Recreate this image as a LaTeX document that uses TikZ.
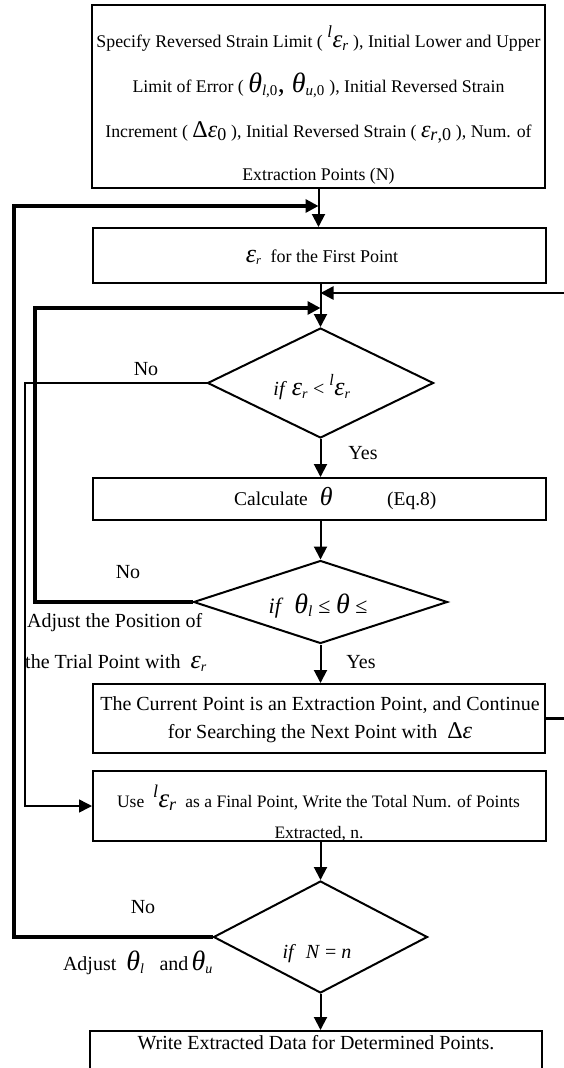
\documentclass[tikz,border=0pt]{standalone}
\usepackage{fontspec}
\setmainfont{Liberation Serif}
\usetikzlibrary{arrows.meta,shapes.geometric}
\newcommand\ep{\textit{ε}}
\newcommand\tht{\textit{θ}}
\newcommand\fs[1]{\fontsize{#1}{#1}\selectfont}
\begin{document}
\begin{tikzpicture}[x=1pt,y=-1pt,
  box/.style={draw,line width=2pt,inner sep=0pt},
  dia/.style={draw,diamond,line width=2pt,inner sep=0pt},
  txt/.style={inner sep=0pt,anchor=base},
  con/.style={line width=2pt,-{Triangle[length=13pt,width=13pt]}},
  thk/.style={line width=4pt,-{Triangle[length=13pt,width=13pt]}},
  thn/.style={line width=1.5pt,-{Triangle[length=13pt,width=13pt]}},
  lbl/.style={inner sep=0pt,anchor=base,font=\fs{20}},
]
\useasboundingbox (0,0) rectangle (564,1068);

% boxes
\node[box,minimum width=453pt,minimum height=183pt] (top) at (318.5,96.5) {};
\node[txt,font=\fs{17.8}] (t1) at (318.5,47) {Specify Reversed Strain Limit ( {\fs{25}\textsuperscript{\fs{17}\itshape l}\ep\textsubscript{\fs{15}\itshape r}} ), Initial Lower and Upper};
\node[txt,font=\fs{17.8}] (t2) at (318.5,92) {Limit of Error ( {\fs{28}\tht\textsubscript{\fs{15}\textit{l},0}, \tht\textsubscript{\fs{15}\textit{u},0}} ), Initial Reversed Strain};
\node[txt,font=\fs{17.8}] (t3) at (318.5,137) {Increment ( {\fs{24}Δ\ep\textsubscript{\fs{18}0}} ), Initial Reversed Strain ( {\fs{24}\ep\textsubscript{\fs{18}\textit{r},0}} ), Num. of};
\node[txt,font=\fs{17.8}] (t4) at (318.5,180) {Extraction Points (N)};

\node[box,minimum width=453pt,minimum height=55pt] (b2) at (319.5,255.5) {};
\node[txt,font=\fs{18}] (b2t) at (322,262) {{\fs{26}\ep}\textsubscript{\itshape r}\ \ for the First Point};

\node[dia,minimum width=226pt,minimum height=110pt] (d1) at (320.5,383) {};
\node[txt,font=\fs{20}] (d1t) at (312,395) {\textit{if} {\fs{26}\ep}\textsubscript{\itshape r} < {\fs{26}\textsuperscript{\fs{16}\itshape l}\ep}\textsubscript{\itshape r}};

\node[box,minimum width=453pt,minimum height=42pt] (calc) at (319.5,499) {};
\node[txt,font=\fs{19.5},anchor=base west] (calct) at (234,505) {Calculate\hspace{12pt}{\fs{26}\tht}};
\node[txt,font=\fs{19.5},anchor=base west] (eq) at (387,505) {(Eq.8)};

\node[dia,minimum width=254pt,minimum height=83pt] (d2) at (320.5,602) {};
\node[txt,font=\fs{22}] (d2t) at (318,613) {\textit{if}\ \ {\fs{28}\tht}\textsubscript{\itshape l} ≤ {\fs{28}\tht} ≤};

\node[box,minimum width=452pt,minimum height=69pt] (cur) at (319,718.5) {};
\node[txt,font=\fs{20}] (c1) at (320,710) {The Current Point is an Extraction Point, and Continue};
\node[txt,font=\fs{20}] (c2) at (320,738) {for Searching the Next Point with\ \ {\fs{24}Δ\ep}};

\node[box,minimum width=453pt,minimum height=70pt] (use) at (319.5,806) {};
\node[txt,font=\fs{17.5}] (u1) at (318.5,807) {Use\ \ {\fs{27}\textsuperscript{\fs{18}\itshape l}\ep\textsubscript{\fs{18}\itshape r}}\ \ as a Final Point, Write the Total Num. of Points};
\node[txt,font=\fs{17.5}] (u2) at (319,838) {Extracted, n.};

\node[dia,minimum width=214pt,minimum height=112pt] (d3) at (320.5,937) {};
\node[txt,font=\fs{20}] (d3t) at (317,958) {\textit{if}\ \ \textit{N} = \textit{n}};

\node[box,minimum width=452pt,minimum height=50pt,anchor=north] (bot) at (316,1030) {};
\node[txt,font=\fs{20}] (bt) at (316,1049) {Write Extracted Data for Determined Points.};

% labels
\node[lbl] (no1) at (146,375) {No};
\node[lbl] (yes1) at (363,459) {Yes};
\node[lbl] (no2) at (128,578) {No};
\node[lbl,anchor=base west] (adj1) at (27,627) {Adjust the Position of};
\node[lbl,anchor=base west] (adj2) at (25,668) {the Trial Point with\ \ {\fs{26}\ep}\textsubscript{\itshape r}};
\node[lbl] (yes2) at (361,668) {Yes};
\node[lbl] (no3) at (143,913) {No};
\node[lbl] (adj3) at (138,970) {Adjust\ \ {\fs{28}\tht}\textsubscript{\itshape l}\ \ \ and\,{\fs{28}\tht}\textsubscript{\itshape u}};

% coordinates for bends
\coordinate (r1) at (568,718.5);
\coordinate (r2) at (568,293);
\coordinate (a1) at (35,602);
\coordinate (a2) at (35,308);
\coordinate (b1) at (25,383);
\coordinate (b2c) at (25,806);
\coordinate (o1) at (14,937);
\coordinate (o2) at (14,206);

% main flow
\draw[con] (top.south) -- (top.south |- b2.north);
\draw[con] (d1.north |- b2.south) -- (d1.north);
\draw[con] (d1.south) -- (d1.south |- calc.north);
\draw[con] (d2.north |- calc.south) -- (d2.north);
\draw[con] (d2.south) -- (d2.south |- cur.north);
\draw[con] (d3.north |- use.south) -- (d3.north);
\draw[con] (d3.south) -- (d3.south |- bot.north);

% feedback
\draw[con,line width=2.5pt] (cur.east) -- (r1) -- (r2) -- (d1.north |- r2);
\draw[thk] (d2.west) -- (a1) -- (a2) -- (d1.north |- a2);
\draw[thn] (d1.west) -- (b1) -- (b2c) -- (use.west);
\draw[thk] (d3.west) -- (o1) -- (o2) -- (top.south |- o2);
\end{tikzpicture}
\end{document}
